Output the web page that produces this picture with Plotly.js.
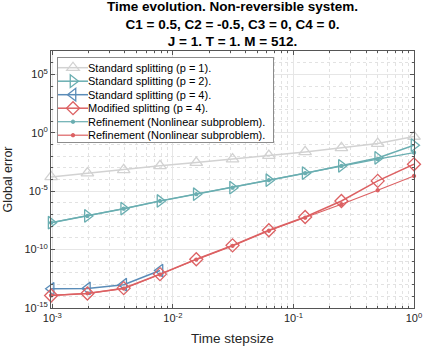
<!DOCTYPE html>
<html>
<head>
<meta charset="utf-8">
<script src="https://cdn.plot.ly/plotly-3.0.1.min.js"></script>
<style>
  html, body { margin: 0; padding: 0; background: #fff; }
  #plot_div { width: 425px; height: 349px; }
</style>
</head>
<body>
<div id="plot_div"></div>
<script>
// time stepsizes, 2^-10 ... 2^0
const dt = [1/1024, 1/512, 1/256, 1/128, 1/64, 1/32, 1/16, 1/8, 1/4, 1/2, 1];

// global errors
const err_std1 = [1.66e-4, 3.5e-4, 6.6e-4, 1.48e-3, 2.8e-3, 5.5e-3, 1.12e-2, 2.3e-2, 5.1e-2, 0.12, 0.48];
const err_std2 = [2.0e-8, 7.6e-8, 3.2e-7, 1.45e-6, 5.5e-6, 2.0e-5, 8.7e-5, 3.5e-4, 1.48e-3, 7.0e-3, 8.7e-2];
const err_std4 = [4.4e-14, 4.7e-14, 1.0e-13, 1.6e-12, null, null, null, null, null, null, null];
const err_mod4 = [1.17e-14, 1.74e-14, 5.0e-14, 7.9e-13, 1.5e-11, 2.3e-10, 4.5e-9, 6.2e-8, 1.45e-6, 7.6e-5, 2.0e-3];
const err_ref2 = [2.0e-8, 7.6e-8, 3.2e-7, 1.45e-6, 5.5e-6, 2.0e-5, 8.7e-5, 3.5e-4, 1.45e-3, 5.5e-3, 2.0e-2];
const err_ref4 = [1.2e-14, 1.8e-14, 4.6e-14, 7.3e-13, 1.4e-11, 2.1e-10, 4.1e-9, 5.4e-8, 7.6e-7, 1.2e-5, 2.0e-4];

const names = [
    'Standard splitting (p = 1).',
    'Standard splitting (p = 2).',
    'Standard splitting (p = 4).',
    'Modified splitting (p = 4).',
    'Refinement (Nonlinear subproblem).',
    'Refinement (Nonlinear subproblem).',
];

const xticks = [1e-3, 1e-2, 1e-1, 1];
const xticktext = ['10<sup>-3</sup>', '10<sup>-2</sup>', '10<sup>-1</sup>', '10<sup>0</sup>'];
const yticks = [1e-15, 1e-10, 1e-5, 1, 1e5];
const yticktext = ['10<sup>-15</sup>', '10<sup>-10</sup>', '10<sup>-5</sup>', '10<sup>0</sup>', '10<sup>5</sup>'];

const GRAY = '#d2d2d2';
const TEAL = '#6aaeb1';
const BLUE = '#5a8cb8';
const RED = '#dc6163';

function series(y, name, color, symbol, size, width=1.5){
    return {
        x: dt, y, name,
        type: 'scatter',
        mode: 'lines+markers',
        cliponaxis: false,
        line: {color, width},
        marker: {symbol, size, color, line: {color, width: 1.3}},
    };
}

const data = [
    series(err_std1, names[0], GRAY, 'triangle-up-open', 11),
    series(err_std2, names[1], TEAL, 'triangle-right-open', 11),
    series(err_std4, names[2], BLUE, 'triangle-left-open', 11),
    series(err_mod4, names[3], RED, 'diamond-open', 10),
    series(err_ref2, names[4], TEAL, 'circle', 3, 1.2),
    series(err_ref4, names[5], RED, 'circle', 3, 1.2),
];

const font = {family: 'Liberation Sans, Arial, sans-serif', size: 11, color: '#262626'};

const minor_grid = {ticks: 'inside', ticklen: 2, tickcolor: '#555', showgrid: true, gridcolor: '#e2e2e2', griddash: 'dot', gridwidth: 1};

const axis_common = {
    type: 'log',
    showline: true,
    linecolor: '#555',
    linewidth: 1,
    mirror: 'ticks',
    ticks: 'inside',
    ticklen: 4,
    tickcolor: '#555',
    showgrid: true,
    gridcolor: '#e6e6e6',
    zeroline: false,
    tickmode: 'array',
    tickfont: {size: 11, color: '#262626'},
};

const layout = {
    width: 425,
    height: 349,
    margin: {l: 51, r: 11, t: 51, b: 41},
    paper_bgcolor: '#fff',
    plot_bgcolor: '#fff',
    font,
    title: {
        text: '<b>Time evolution. Non-reversible system.</b><br><b>C1 = 0.5, C2 = -0.5, C3 = 0, C4 = 0.</b><br><b>J = 1. T = 1. M = 512.</b>',
        font: {size: 13.5, color: '#000'},
        x: (51 + 181.5) / 425,
        xanchor: 'center',
        yref: 'container',
        y: 0.968,
        yanchor: 'top',
    },
    xaxis: Object.assign({}, axis_common, {
        // left end a hair below 1e-3 so the 1/1024 points are not culled
        range: [Math.log10(dt[0]) - 0.001, 0],
        tickvals: xticks,
        ticktext: xticktext,
        minor: Object.assign({dtick: 'D1'}, minor_grid),
        title: {text: 'Time stepsize', font: {size: 13.5, color: '#262626'}, standoff: 10},
    }),
    yaxis: Object.assign({}, axis_common, {
        range: [-15, 7],
        tickvals: yticks,
        ticktext: yticktext,
        minor: Object.assign({dtick: 1}, minor_grid),
        title: {text: 'Global error', font: {size: 12.5, color: '#262626'}, standoff: 9},
    }),
    showlegend: true,
    legend: {
        x: 6 / 363,
        y: 1 - 6 / 257,
        xanchor: 'left',
        yanchor: 'top',
        bgcolor: '#fff',
        bordercolor: '#8c8c8c',
        borderwidth: 1,
        font: {size: 11, color: '#000'},
        itemwidth: 30,
        tracegroupgap: 0,
    },
};

const config = {displayModeBar: false, staticPlot: true};

// Plotly won't pack legend rows tighter than 19px, so squeeze them afterwards
function packLegend(gd, {first=10.7, row=13.5, bottom=7, shift=-4, textx=35, width=216}={}){
    const items = gd.querySelectorAll('.legend .traces');
    items.forEach((el, i) => {
        el.setAttribute('transform', `translate(${shift},${first + i * row})`);
        const txt = el.querySelector('.legendtext');
        if (txt) txt.setAttribute('x', textx);
    });
    const bg = gd.querySelector('.legend .bg');
    if (bg) {
        bg.setAttribute('height', first + (items.length - 1) * row + bottom);
        bg.setAttribute('width', width);
    }
}

const gd = document.querySelector('#plot_div');
Plotly.newPlot(gd, data, layout, config).then(() => packLegend(gd));
</script>
</body>
</html>
